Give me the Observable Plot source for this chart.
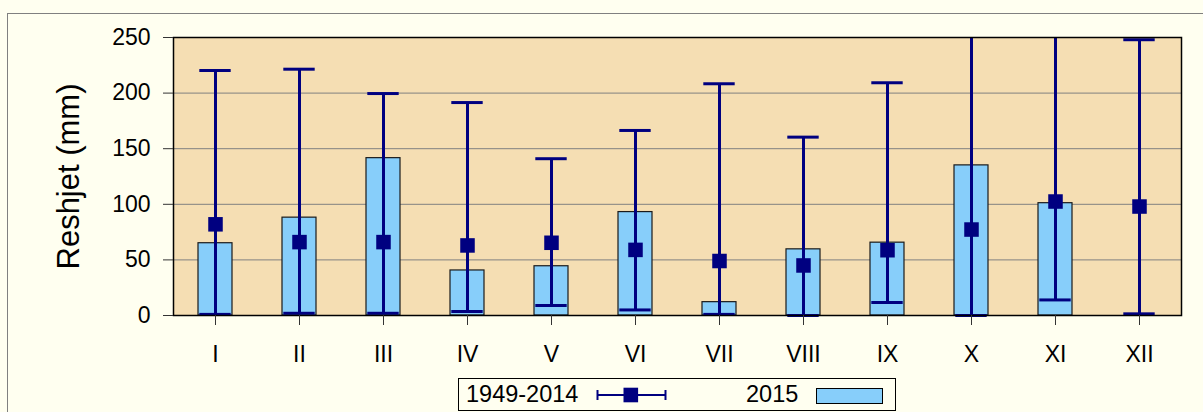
<!DOCTYPE html>
<html><head><meta charset="utf-8">
<script src="https://cdn.jsdelivr.net/npm/d3@7"></script>
<script src="https://cdn.jsdelivr.net/npm/@observablehq/plot@0.6"></script>
<style>
html,body{margin:0;padding:0;background:#FFFFF0;}
#wrap{position:relative;width:1203px;height:412px;overflow:hidden;font-family:"Liberation Sans",Arial,sans-serif;}
#border{position:absolute;left:7px;top:13px;width:1300px;height:500px;border:1px solid #808080;}
#chart{position:absolute;left:0;top:0;}
#legend{position:absolute;left:458px;top:378px;width:438px;height:33px;border:1px solid #000;box-sizing:border-box;background:#FFFFF0;}
#legend .t{position:absolute;top:1px;font-size:23.5px;line-height:29px;color:#000;}
#legend svg{position:absolute;}
</style>
</head><body>
<div id="wrap">
  <div id="border"></div>
  <div id="chart"></div>
  <div id="legend">
    <span class="t" style="left:7px">1949-2014</span>
    <svg style="left:137px;top:4px" width="72" height="24">
      <line x1="1.5" y1="12" x2="69.5" y2="12" stroke="#000080" stroke-width="2"/>
      <line x1="1.5" y1="7" x2="1.5" y2="17" stroke="#000080" stroke-width="2"/>
      <line x1="69.5" y1="7" x2="69.5" y2="17" stroke="#000080" stroke-width="2"/>
      <rect x="27.5" y="4.7" width="14.6" height="14.6" fill="#000080"/>
    </svg>
    <span class="t" style="left:287px">2015</span>
    <svg style="left:357px;top:9px" width="68" height="17">
      <rect x="0.5" y="0.5" width="66" height="15" fill="#87CEFA" stroke="#000" stroke-width="1"/>
    </svg>
  </div>
</div>
<script>
const months = ["I","II","III","IV","V","VI","VII","VIII","IX","X","XI","XII"];
const val2015 = [65, 88, 141.5, 40.5, 44.3, 93, 12, 59.5, 65.5, 135, 101, null];
const meanVal = [82, 66, 66, 63, 65.4, 59, 49, 45, 58.7, 77.3, 102.5, 98];
const maxVal = [220.3, 221.5, 199.6, 191.5, 141, 166.4, 208.4, 160.4, 209.3, 280, 275, 248];
const minVal = [1, 2, 2, 3.6, 9, 5, 1, 0, 11.7, 0, 14, 1.5];
const yTicks = [0, 50, 100, 150, 200, 250];

const data = months.map((m, i) => ({m, v: val2015[i], mean: meanVal[i], max: maxVal[i], min: minVal[i]}));
const bars = data.filter(d => d.v != null);

const navy = "#000080";
const plot = Plot.plot({
  width: 1203,
  height: 412,
  marginLeft: 173,
  marginRight: 22,
  marginTop: 37,
  marginBottom: 97,
  style: {fontFamily: "'Liberation Sans', Arial, sans-serif", background: "transparent", color: "#000"},
  x: {type: "band", domain: months, paddingInner: 0.6, paddingOuter: 0.3},
  y: {domain: [0, 250]},
  marks: [
    Plot.frame({fill: "#F5DEB3"}),
    Plot.gridY(yTicks.slice(1, -1), {stroke: "#808080", strokeOpacity: 1, strokeWidth: 1}),
    Plot.barY(bars, {x: "m", y: "v", fill: "#87CEFA", stroke: "#1a1a1a", strokeWidth: 1.2}),
    Plot.ruleX(data, {x: "m", y1: "min", y2: "max", stroke: navy, strokeWidth: 3, clip: true}),
    Plot.tickY(data, {x: "m", y: "max", stroke: navy, strokeWidth: 3, insetLeft: 1.3, insetRight: 1.3, clip: true}),
    Plot.tickY(data, {x: "m", y: "min", stroke: navy, strokeWidth: 3, insetLeft: 1.3, insetRight: 1.3}),
    Plot.dot(data, {x: "m", y: "mean", symbol: "square", r: 8.2, fill: navy, stroke: null}),
    Plot.frame({stroke: "#000", strokeWidth: 1.5}),
    Plot.axisY({ticks: yTicks, tickSize: 10, tickPadding: 13, fontSize: 23, label: null, stroke: "#333"}),
    Plot.axisX({tickSize: 10, tickPadding: 20, fontSize: 23, label: null, stroke: "#333"}),
    Plot.text(["Reshjet (mm)"], {frameAnchor: "left", rotate: -90, dx: -104, fontSize: 31, textAnchor: "middle", lineAnchor: "middle", fill: "#000"})
  ]
});
document.getElementById("chart").appendChild(plot);
</script>
</body></html>
